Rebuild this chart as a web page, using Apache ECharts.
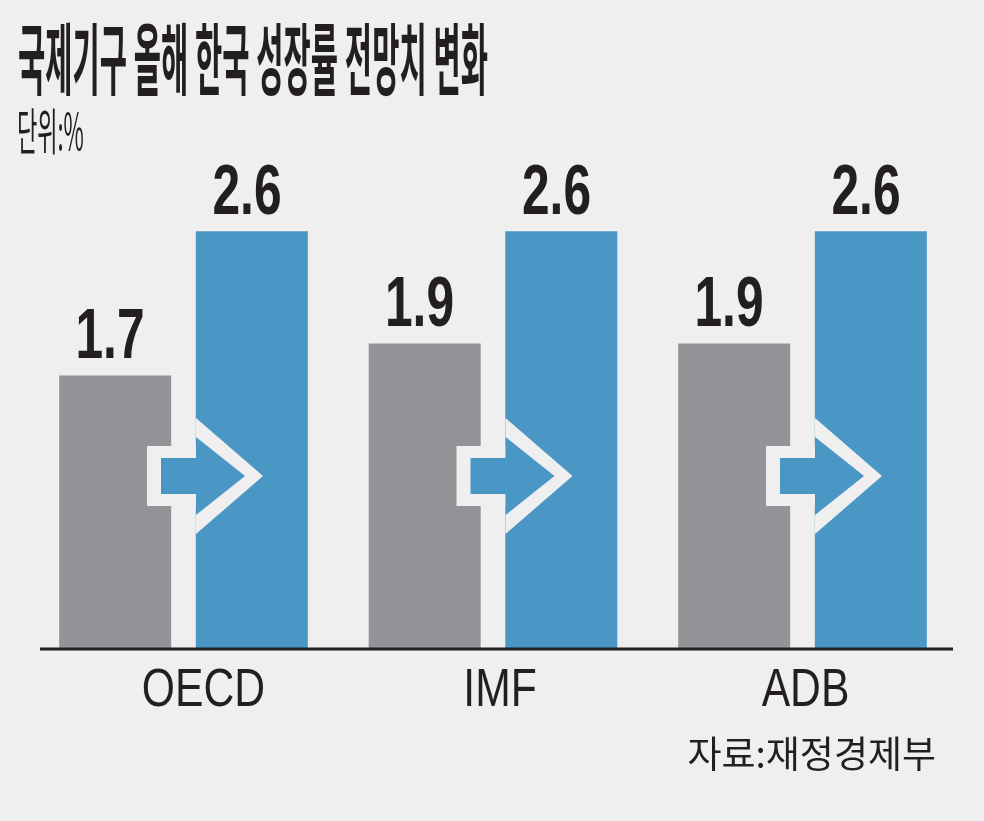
<!DOCTYPE html>
<html>
<head>
<meta charset="utf-8">
<script src="https://cdn.jsdelivr.net/npm/echarts@6/dist/echarts.min.js"></script>
<style>
  html, body { margin: 0; padding: 0; background: #efefef; }
  #chart { width: 984px; height: 821px; }
</style>
</head>
<body>
<div id="chart"></div>
<script>
// 기관별 한국 성장률 전망치 (단위: %)
const agencies = ['OECD', 'IMF', 'ADB'];
const before = [1.7, 1.9, 1.9];
const after = [2.6, 2.6, 2.6];

const titleText = '국제기구 올해 한국 성장률 전망치 변화';
const unitText = '단위:%';
const sourceText = '자료:재정경제부';

const GRAY = '#939498';
const BLUE = '#4a96c4';
const BG = '#efefef';
const INK = '#231f20';
const LATIN = '"Liberation Sans", Arial, sans-serif';

// small horizontal nudges for the category names
const nameShift = [20, 7, 3];

const chart = echarts.init(document.getElementById('chart'));

// arrow drawn between the two bars of each group
const renderArrow = (params, api) => {
  const p = api.coord([api.value(0), 0]);
  const x0 = p[0] + 12.5; // left edge of the blue bar
  const cy = p[1] - 172;
  const outer = [
    [x0 - 49, cy - 30], [x0, cy - 30], [x0, cy - 58], [x0 + 67, cy],
    [x0, cy + 58], [x0, cy + 30], [x0 - 49, cy + 30]
  ];
  const inner = [
    [x0 - 35, cy - 18], [x0, cy - 18], [x0, cy - 39], [x0 + 49, cy],
    [x0, cy + 39], [x0, cy + 18], [x0 - 35, cy + 18]
  ];
  return {
    type: 'group',
    children: [
      { type: 'polygon', shape: { points: outer }, style: { fill: BG } },
      { type: 'polygon', shape: { points: inner }, style: { fill: BLUE } }
    ]
  };
};

// condensed value labels + category names
const condensed = (x, y, text, font, sx) => ({
  type: 'text',
  x: x,
  y: y,
  scaleX: sx,
  style: { text: text, font: font, fill: INK, align: 'center', verticalAlign: 'middle' }
});

const renderLabels = (params, api) => {
  const i = api.value(0);
  const v1 = api.value(1);
  const v2 = api.value(2);
  const p1 = api.coord([i, v1]);
  const p2 = api.coord([i, v2]);
  const base = api.coord([i, 0]);
  const valFont = 'bold 71px ' + LATIN;
  return {
    type: 'group',
    children: [
      condensed(p1[0] - 68.5 - 5, p1[1] - 37, v1.toFixed(1), valFont, 0.7),
      condensed(p2[0] + 68.5 - 5, p2[1] - 37, v2.toFixed(1), valFont, 0.7),
      condensed(base[0] + nameShift[i], base[1] + 43, agencies[i], '54px ' + LATIN, 0.79)
    ]
  };
};

const option = {
  backgroundColor: BG,
  animation: false,
  grid: { left: 28.75, right: 26.75, top: 87, bottom: 173 },
  xAxis: {
    type: 'category',
    data: agencies,
    axisLine: { show: false },
    axisTick: { show: false },
    axisLabel: { show: false }
  },
  yAxis: {
    type: 'value',
    min: 0,
    max: 3.5,
    show: false,
    splitLine: { show: false }
  },
  series: [
    {
      name: '이전',
      type: 'bar',
      data: before,
      barWidth: 112,
      barGap: '22%',
      itemStyle: { color: GRAY },
      z: 2
    },
    {
      name: '수정',
      type: 'bar',
      data: after,
      barWidth: 112,
      itemStyle: { color: BLUE },
      z: 2
    },
    {
      type: 'custom',
      data: agencies.map((a, i) => [i]),
      renderItem: renderArrow,
      z: 5,
      silent: true
    },
    {
      type: 'custom',
      data: agencies.map((a, i) => [i, before[i], after[i]]),
      renderItem: renderLabels,
      clip: false,
      z: 6,
      silent: true
    }
  ],
  graphic: [
    {
      type: 'text',
      x: 18,
      y: 20,
      scaleX: 0.38,
      style: {
        text: titleText,
        font: 'bold 78px "Noto Sans CJK KR"',
        fill: INK,
        textVerticalAlign: 'top'
      }
    },
    {
      type: 'text',
      x: 17,
      y: 106,
      scaleX: 0.44,
      style: {
        text: unitText,
        font: '50px "Noto Sans CJK KR"',
        fill: INK,
        textVerticalAlign: 'top'
      }
    },
    {
      type: 'text',
      x: 936,
      y: 735,
      style: {
        text: sourceText,
        font: '37px "Noto Sans CJK KR"',
        fill: INK,
        textAlign: 'right',
        textVerticalAlign: 'top'
      }
    },
    {
      type: 'line',
      shape: { x1: 40, y1: 649, x2: 953, y2: 649 },
      style: { stroke: INK, lineWidth: 3 },
      z: 10
    }
  ]
};

chart.setOption(option);
</script>
</body>
</html>
